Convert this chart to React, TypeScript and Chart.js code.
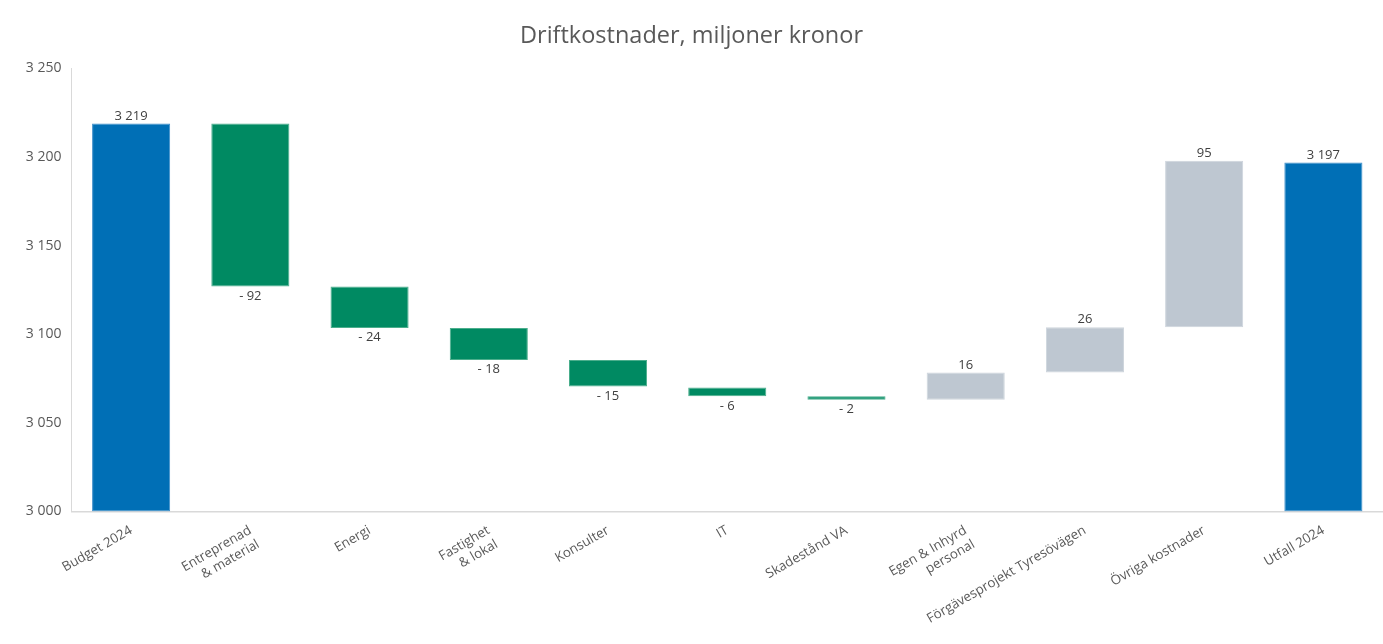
import React, { useEffect, useRef } from "react";
import { Chart, registerables } from "chart.js";

Chart.register(...registerables);

const TITLE = "Driftkostnader, miljoner kronor";

const categories: (string | string[])[] = [
  "Budget 2024",
  ["Entreprenad", "& material"],
  "Energi",
  ["Fastighet", "& lokal"],
  "Konsulter",
  "IT",
  "Skadestånd VA",
  ["Egen & Inhyrd", "personal"],
  "Förgävesprojekt Tyresövägen",
  "Övriga kostnader",
  "Utfall 2024",
];

// Displayed values (totals and changes)
const labelValues = [3219, -92, -24, -18, -15, -6, -2, 16, 26, 95, 3197];

// Bar bottoms and tops
const barLow = [3000, 3127, 3103.5, 3085.5, 3070.5, 3065, 3063, 3063, 3078.5, 3104, 3000];
const barHigh = [3219, 3219, 3127, 3103.5, 3085.5, 3070, 3065, 3078.5, 3104, 3198, 3197];

// kind: total / decrease / increase
const barKind = ["total", "dec", "dec", "dec", "dec", "dec", "dec", "inc", "inc", "inc", "total"];

const yTicks = [3000, 3050, 3100, 3150, 3200, 3250];

const FILL: Record<string, string> = { total: "#006FB6", dec: "#008A62", inc: "#BEC7D1" };
const EDGE: Record<string, string> = { total: "#3F8FCB", dec: "#4BAE8C", inc: "#CDD4DC" };

const FONT = "'Open Sans', 'Liberation Sans', sans-serif";

function fmtThousands(n: number): string {
  const s = Math.round(Math.abs(n)).toString();
  return s.replace(/\B(?=(\d{3})+(?!\d))/g, " ");
}

function fmtLabel(v: number, kind: string): string {
  if (kind === "total") return fmtThousands(v);
  if (v < 0) return "- " + fmtThousands(v);
  return fmtThousands(v);
}

const dataLabelPlugin = {
  id: "wfLabels",
  afterDatasetsDraw(chart: any) {
    const ctx = chart.ctx;
    const meta = chart.getDatasetMeta(0);
    const y = chart.scales.y;
    ctx.save();
    ctx.font = `13px ${FONT}`;
    ctx.fillStyle = "#404040";
    ctx.textAlign = "center";
    meta.data.forEach((el: any, i: number) => {
      const kind = barKind[i];
      const txt = fmtLabel(labelValues[i], kind);
      if (kind === "dec") {
        ctx.textBaseline = "top";
        ctx.fillText(txt, el.x, y.getPixelForValue(barLow[i]) + 3);
      } else {
        ctx.textBaseline = "bottom";
        ctx.fillText(txt, el.x, y.getPixelForValue(barHigh[i]) - 1);
      }
    });
    ctx.restore();
  },
};

export default function App() {
  const ref = useRef<HTMLCanvasElement | null>(null);

  useEffect(() => {
    document.body.style.margin = "0";
    const canvas = ref.current;
    if (!canvas) return;
    const chart = new Chart(canvas, {
      type: "bar",
      data: {
        labels: categories,
        datasets: [
          {
            data: barLow.map((lo, i) => [lo, barHigh[i]]),
            backgroundColor: barKind.map((k) => FILL[k]),
            borderColor: barKind.map((k) => EDGE[k]),
            borderWidth: 1,
            borderSkipped: false,
            barPercentage: 0.655,
            categoryPercentage: 1,
          } as any,
        ],
      },
      options: {
        responsive: false,
        animation: false,
        layout: { padding: { left: 0, right: 0, top: 0, bottom: 0 } },
        plugins: {
          legend: { display: false },
          tooltip: { enabled: false },
          title: {
            display: true,
            text: TITLE,
            color: "#595959",
            font: { family: FONT, size: 23.5, weight: "normal" },
            padding: { top: 22, bottom: 18.3 },
          },
        },
        scales: {
          x: {
            grid: { display: false, drawTicks: false },
            border: { display: true, color: "#D9D9D9", width: 1.5 },
            ticks: {
              color: "#595959",
              font: { family: FONT, size: 13.3 },
              maxRotation: 30,
              minRotation: 30,
              autoSkip: false,
              padding: 11,
            },
            afterFit(scale: any) {
              scale.height = 132.5;
            },
          },
          y: {
            min: 3000,
            max: 3250,
            afterBuildTicks(scale: any) {
              scale.ticks = yTicks.map((v) => ({ value: v }));
            },
            grid: { display: false, drawTicks: false },
            border: { display: true, color: "#D9D9D9", width: 1 },
            ticks: {
              color: "#595959",
              font: { family: FONT, size: 14 },
              padding: 10,
              callback: (v: any) => fmtThousands(Number(v)),
            },
            afterFit(scale: any) {
              scale.width = 71.5;
            },
          },
        },
      },
      plugins: [dataLabelPlugin],
    });
    return () => chart.destroy();
  }, []);

  return (
    <div style={{ position: "absolute", left: 0, top: 0, width: 1383, height: 644, background: "#fff" }}>
      <canvas ref={ref} width={1383} height={644} style={{ display: "block" }} />
    </div>
  );
}
